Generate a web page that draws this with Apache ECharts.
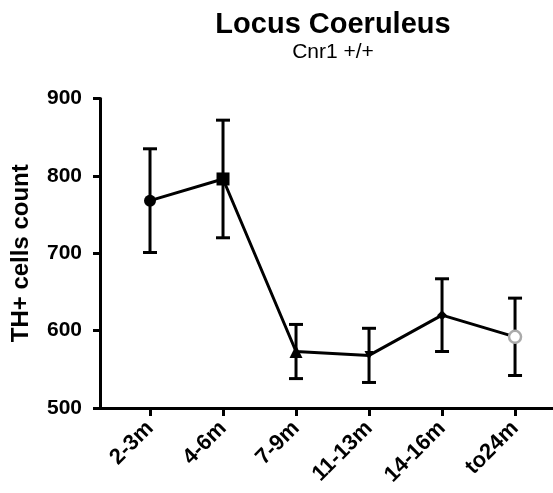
<!DOCTYPE html>
<html>
<head>
<meta charset="utf-8">
<script src="https://cdn.jsdelivr.net/npm/echarts@6/dist/echarts.min.js"></script>
<style>
  html, body { margin: 0; padding: 0; background: #fff; }
  #chart { width: 553px; height: 493px; }
</style>
</head>
<body>
<div id="chart"></div>
<script>
// Age groups and TH+ cell counts (mean ± SEM), Cnr1 +/+ locus coeruleus
const categories = ['2-3m', '4-6m', '7-9m', '11-13m', '14-16m', 'to24m'];
const means = [768, 796, 573, 568, 620, 592];
const errors = [67, 76, 35, 35, 47, 50];
const yTicks = [500, 600, 700, 800, 900];
const symbols = ['circle', 'rect', 'triangle', 'path://M0,0 L10,0 L5,10 Z', 'diamond', 'circle'];
const symbolSizes = [12, 13, 13, 9, 10, 12];

const FONT = 'Liberation Sans, Arial, sans-serif';
const positions = categories.map((c, i) => i);

const pointData = means.map((m, i) => {
  const open = i === categories.length - 1;
  return {
    value: [i, m],
    symbol: symbols[i],
    symbolSize: symbolSizes[i],
    itemStyle: open
      ? { color: '#fff', borderColor: '#aaaaaa', borderWidth: 2.5 }
      : { color: '#000', borderColor: '#000', borderWidth: 0 }
  };
});

const errorData = means.map((m, i) => [i, m - errors[i], m + errors[i]]);

const chart = echarts.init(document.getElementById('chart'), null, { renderer: 'canvas' });
chart.setOption({
  animation: false,
  backgroundColor: '#fff',
  title: {
    text: 'Locus Coeruleus',
    subtext: 'Cnr1 +/+',
    left: 328,
    textAlign: 'center',
    top: 5,
    itemGap: 3,
    textStyle: { fontFamily: FONT, fontSize: 29, fontWeight: 'bold', color: '#000' },
    subtextStyle: { fontFamily: FONT, fontSize: 21, color: '#000' }
  },
  grid: { left: 100, right: 0, top: 98.5, bottom: 85, containLabel: false },
  xAxis: {
    type: 'value',
    min: -0.685,
    max: 5.52,
    splitLine: { show: false },
    axisLine: { show: true, onZero: false, lineStyle: { color: '#000', width: 3 } },
    axisTick: {
      show: true,
      customValues: positions,
      length: 8,
      lineStyle: { color: '#000', width: 3 }
    },
    axisLabel: {
      show: true,
      customValues: positions,
      formatter: v => categories[Math.round(v)],
      rotate: 45,
      margin: 17,
      fontFamily: FONT,
      fontSize: 22,
      fontWeight: 'bold',
      color: '#000'
    }
  },
  yAxis: {
    type: 'value',
    min: yTicks[0],
    max: yTicks[yTicks.length - 1],
    interval: 100,
    name: 'TH+ cells count',
    nameLocation: 'middle',
    nameRotate: 90,
    nameGap: 67,
    nameTextStyle: { fontFamily: FONT, fontSize: 24, fontWeight: 'bold', color: '#000' },
    splitLine: { show: false },
    axisLine: { show: true, onZero: false, lineStyle: { color: '#000', width: 3 } },
    axisTick: { show: true, length: 7, lineStyle: { color: '#000', width: 3 } },
    axisLabel: {
      margin: 18,
      fontFamily: FONT,
      fontSize: 21,
      fontWeight: 'bold',
      color: '#000'
    }
  },
  series: [
    {
      type: 'custom',
      z: 2,
      data: errorData,
      renderItem: (params, api) => {
        const x = api.value(0);
        const lo = api.coord([x, api.value(1)]);
        const hi = api.coord([x, api.value(2)]);
        const half = 7;
        const style = { stroke: '#000', lineWidth: 3, fill: null };
        return {
          type: 'group',
          children: [
            { type: 'line', shape: { x1: lo[0], y1: lo[1], x2: hi[0], y2: hi[1] }, style },
            { type: 'line', shape: { x1: lo[0] - half, y1: lo[1], x2: lo[0] + half, y2: lo[1] }, style },
            { type: 'line', shape: { x1: hi[0] - half, y1: hi[1], x2: hi[0] + half, y2: hi[1] }, style }
          ]
        };
      }
    },
    {
      type: 'line',
      z: 3,
      data: pointData,
      showAllSymbol: true,
      lineStyle: { color: '#000', width: 3 },
      itemStyle: { color: '#000' }
    }
  ]
});
</script>
</body>
</html>
